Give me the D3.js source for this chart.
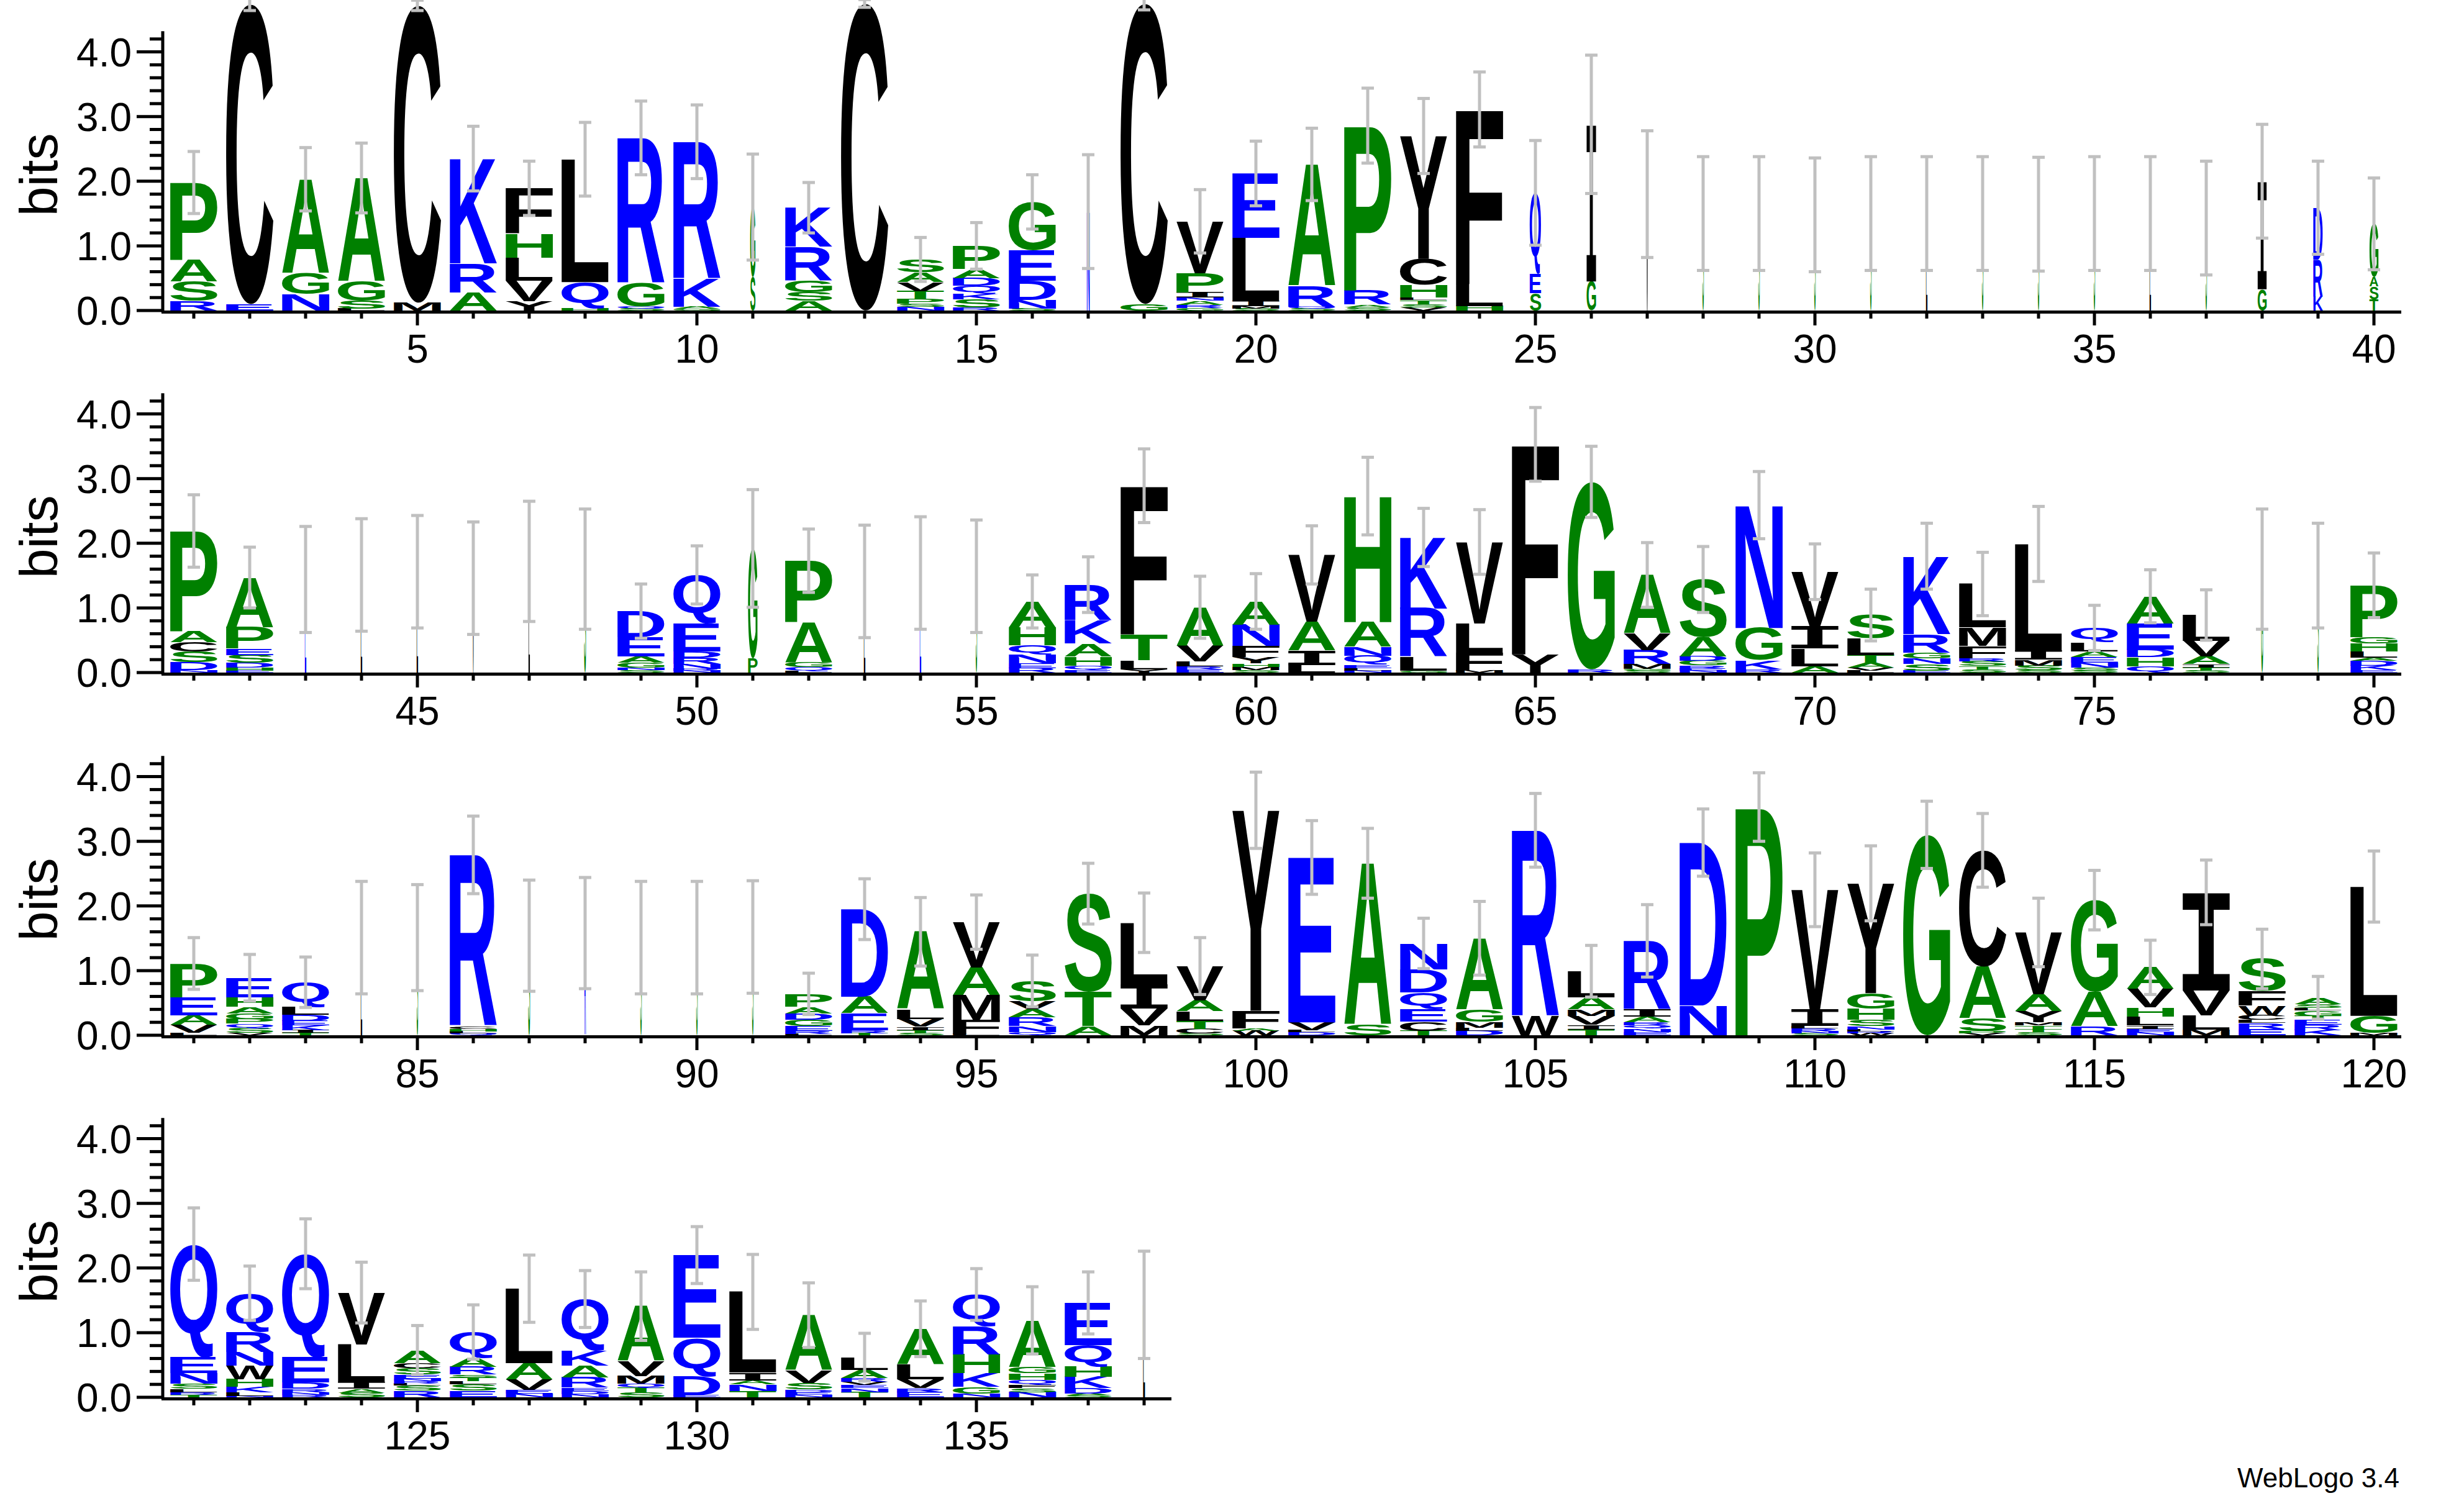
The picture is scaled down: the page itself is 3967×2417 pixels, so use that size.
<!DOCTYPE html>
<html><head><meta charset="utf-8">
<script src="https://cdn.jsdelivr.net/npm/d3@7"></script>
<style>body{margin:0;background:#fff}</style></head>
<body><svg id="c" width="3967" height="2417"></svg>
<script>
// stacks: letters bottom→top with heights in bits
const stacks1 = [
"R.15 S.3 A.33 P1.2","E.1 C4.64","N.25 G.33 A1.45","L.03 S.12 G.3 A1.6","M.12 C4.6",
"A.28 R.45 K1.62","Y.14 V.32 L.36 H.37 F.7","H.04 Q.4 L1.9","S.03 Q.03 G.36 R2.25","G.03 A.03 K.43 R2.12",
"S.52 G1.08","A.15 S.14 G.18 R.52 K.6","C4.75","N.06 S.05 P.07 T.12 V.14 A.15 S.2","R.05 S.12 K.09 Q.12 D.12 A.14 P.36",
"S.03 N.13 D.3 E.47 G.75","N1.53","G.1 C4.65","G.04 R.05 A.06 N.05 I.08 P.3 V.8","S.03 M.04 I.08 L.97 E1.0",
"S.03 Q.03 R.32 A1.88","S.05 A.04 R.22 P2.55","V.05 S.05 T.06 L.04 H.2 C.4 Y1.9","H.07 L.34 F2.7","S.27 E.3 Q1.25",
"G.45 I2.43","V1.8","S1.5","S1.5","S1.48","S1.5","L1.5","S1.5","S1.49","S1.5","L1.5","S1.43",
"G.33 I1.67","K.22 R.57 D.8","T.17 S.2 A.15 G.82"];
const stacks2 = [
"N.04 D.12 S.16 C.15 A.17 P1.55","E.03 H.05 D.07 S.12 E.1 P.33 A.77","E1.44","L1.51","L1.56","V1.46","L1.72","S1.6",
"S.04 N.04 G.07 A.1 E.3 D.4","N.03 R.03 N.07 R.1 D.1 E.43 Q.75","P.22 G1.7","L.02 Q.07 G.07 A.62 P.95","L1.41","E1.54","S1.49",
"R.07 E.07 N.14 Q.14 H.28 A.4","E.04 Q.07 H.14 A.2 K.36 R.55","Y.05 L.14 T.4 F2.3","E.05 R.05 L.07 V.24 A.6","S.04 M.05 H.05 Y.1 F.17 N.33 A.36",
"L.12 I.22 A.45 V1.03","N.03 L.04 E.05 Q.14 N.14 A.38 H1.95","G.03 L.21 R.75 K1.1","M.03 F.28 L.45 V1.26","Y.28 F3.25",
"R.05 G2.9","S.03 G.03 M.07 R.22 V.26 A.9","N.03 E.03 R.05 G.07 D.07 A.29 S.9","R.05 K.14 G.5 N1.9","A.1 L.27 I.34 V.85",
"L.03 V.05 A.07 T.12 L.26 S.36","E.03 S.1 N.09 G.09 R.29 K1.2","S.05 T.05 S.07 R.05 F.19 M.29 L.67","S.04 S.07 M.09 I.14 L1.65","S.03 S.05 N.07 E.09 A.09 L.14 Q.22",
"Q.1 H.14 D.12 E.4 A.42","S.03 T.05 I.05 A.12 V.24 L.4","G1.6","S1.5","E.04 K.07 D.07 A.05 L.1 H.12 G.1 P.8"];
const stacks3 = [
"L.04 V.12 A.15 E.28 P.52","V.04 S.07 Q.07 P.07 G.09 A.1 H.15 E.3","T.04 I.04 K.07 E.07 D.1 L.12 Q.38","L1.51","S1.51",
"Q.03 L.03 H.04 C.04 R2.65","S1.54","R1.58","S1.51","S1.51","S1.52",
"L.02 R.05 E.07 G.1 D.1 A.1 P.2","T.03 R.05 E.26 A.26 D1.35","S.03 T.05 I.05 V.12 L.15 A1.2","L.02 F.22 M.38 A.43 V.7",
"Q.05 N.09 R.14 A.12 V.12 S.32","A.14 T.53 S1.52","M.15 V.26 I.38 L.95","S.03 C.07 T.12 L.15 A.17 V.53","W.07 A.04 F.27 Y3.1",
"D.05 L.03 V.12 E2.55","S.16 A2.5","T.07 C.14 E.19 Q.26 D.36 N.4","D.07 L.05 M.09 G.19 A1.1","W.29 R2.88",
"T.09 I.07 V.14 M.1 A.19 L.4","E.05 N.05 Q.05 R.05 A.09 I.12 R1.05","N.46 D2.52","P3.53","S.03 N.03 R.05 L.03 I.26 V1.85",
"W.03 R.03 L.03 N.05 S.1 H.17 G.24 Y1.7","G3.1","V.03 P.03 S.2 A.8 C1.8","S.05 T.05 T.05 M.05 Y.17 A.26 V.96","R.14 A.53 G1.42",
"N.05 E.05 I.05 L.14 H.14 V.29 A.33","M.09 L.22 V.38 I1.52","E.1 R.09 L.05 C.07 W.15 F.22 S.5","K.08 R.08 E.07 T.07 G.08 L.04 S.06 A.1","M.03 G.27 L2.0"];
const stacks4 = [
"T.04 R.04 L.05 S.08 N.16 E.25 Q1.75","N.02 L.06 K.08 H.12 W.21 N.21 R.31 Q.6","R.04 N.04 R.05 D.1 E.39 Q1.6","S.07 A.06 I.1 L.59 V.8","R.1 S.08 L.03 R.04 N.04 E.06 S.1 C.08 A.2",
"E.1 S.1 L.05 T.06 S.04 R.12 A.14 Q.4","N.06 E.06 V.16 A.25 L1.15","N.05 D.05 E.05 R.16 A.18 K.23 Q.8","S.08 T.07 Q.06 M.12 V.23 A.85","E.03 D.29 Q.6 E1.28",
"T.1 N.1 A.06 I.12 L1.25","N.04 E.04 D.04 S.1 V.2 A.85","T.08 N.06 E.05 V.05 R.06 A.12 L.2","E.08 R.06 V.14 L.23 A.55","N.06 G.1 K.21 H.29 R.43 Q.5",
"N.08 S.06 F.05 Q.08 H.1 G.1 A.72","S.03 A.03 D.08 K.18 H.16 Q.33 E.65","L1.43"];
const widths = {11:.11,17:.06,25:.24,26:.2,27:.04,28:.03,29:.03,30:.03,31:.03,32:.03,33:.03,34:.03,35:.03,36:.03,37:.03,
  38:.19,39:.2,40:.19,43:.03,44:.03,45:.03,46:.03,47:.03,48:.04,51:.2,53:.03,54:.03,55:.03,78:.04,79:.03,
  84:.03,85:.03,87:.04,88:.03,89:.03,90:.03,91:.03,138:.04};
const errs1 = [.48,.1,.49,.54,.08,.5,.42,.57,.57,.57,.82,.39,.06,.34,.36,.42,.88,.1,.49,.5,.56,.58,.58,.58,.81,1.07,.98,.88,.88,.88,.88,.88,.88,.88,.88,.88,.88,.88,.72,.71];
const errs2 = [.56,.47,.82,.87,.87,.87,.93,.93,.42,.45,.91,.49,.87,.87,.87,.41,.43,.57,.48,.43,.45,.6,.45,.5,.57,.55,.5,.51,.52,.43,.4,.51,.49,.58,.35,.41,.39,.93,.81,.5];
const errs3 = [.4,.36,.39,.87,.82,.6,.86,.86,.87,.87,.87,.32,.47,.53,.42,.4,.47,.46,.44,.59,.57,.54,.39,.57,.57,.4,.56,.52,.53,.57,.58,.52,.57,.53,.46,.42,.5,.46,.33,.55];
const errs4 = [.56,.42,.54,.47,.38,.42,.52,.44,.53,.44,.58,.5,.37,.43,.4,.52,.48,.83];
const yTicks = [0,1,2,3,4];
const rowStarts = [1,41,81,121];

const allStacks = [...stacks1,...stacks2,...stacks3,...stacks4];
const allErrs = [...errs1,...errs2,...errs3,...errs4];
const colorOf = l => "RKDENQ".includes(l) ? "#0000ff" : ("SGHTAP".includes(l) ? "#008000" : "#000000");

const svg = d3.select("#c");
const FONT = "'Liberation Sans', Arial, Helvetica, sans-serif";
const MONO = "'Liberation Mono', 'DejaVu Sans Mono', monospace";
const fontFor = l => l === "I" ? MONO : FONT;
const cv = document.createElement("canvas").getContext("2d");
const metrics = {};
function met(l){ if(!metrics[l]){ cv.font = "bold 200px " + fontFor(l); const m=cv.measureText(l); metrics[l]={l:m.actualBoundingBoxLeft,r:m.actualBoundingBoxRight,a:m.actualBoundingBoxAscent,d:m.actualBoundingBoxDescent}; } return metrics[l]; }

const zeros = [500,1083,1667,2250];
const bitPx = 104.1;
rowStarts.forEach((start, ri) => {
  const n = Math.min(40, allStacks.length - (start-1));
  const x = d3.scaleLinear().domain([start-1, start]).range([312-90, 312]);
  const y = d3.scaleLinear().domain([0,4]).range([zeros[ri], zeros[ri]-4*bitPx]);
  const g = svg.append("g");
  for (let i=0;i<n;i++){
    const p = start+i;
    const items = allStacks[p-1].split(" ").map(s=>({l:s[0],h:+s.slice(1)}));
    const w = 76*(widths[p]||1);
    let cum = 0;
    items.forEach(it=>{
      const m = met(it.l);
      const y0 = y(cum+it.h), y1 = y(cum);
      const H = y1-y0, sx = w/(m.l+m.r), sy = H/(m.a+m.d);
      g.append("text").text(it.l).attr("font-family",fontFor(it.l)).attr("font-weight","bold").attr("font-size",200)
        .attr("fill",colorOf(it.l))
        .attr("transform",`translate(${x(p)-w/2},${y0}) scale(${sx},${sy}) translate(${m.l},${m.a})`);
      cum += it.h;
    });
    const e = allErrs[p-1];
    const eg = g.append("g").attr("stroke","#c0c0c0").attr("stroke-width",5);
    eg.append("line").attr("x1",x(p)).attr("x2",x(p)).attr("y1",y(cum-e)).attr("y2",y(cum+e));
    [cum-e,cum+e].forEach(v=>eg.append("line").attr("x1",x(p)-10).attr("x2",x(p)+10).attr("y1",y(v)).attr("y2",y(v)));
  }
  const ya = g.append("g").attr("transform","translate(262,0)");
  ya.append("line").attr("x1",0).attr("x2",0).attr("y1",y(0)+3).attr("y2",y(4.32)).attr("stroke","#000").attr("stroke-width",5);
  d3.range(0,4.3,0.2).forEach(v=>{
    const major = Math.abs(v-Math.round(v))<1e-6;
    ya.append("line").attr("x1",major?-42:-21).attr("x2",0).attr("y1",y(v)).attr("y2",y(v)).attr("stroke","#000").attr("stroke-width",5);
  });
  yTicks.forEach(v=>ya.append("text").text(v.toFixed(1)).attr("x",-50).attr("y",y(v)).attr("dy","0.36em")
    .attr("text-anchor","end").attr("font-family",FONT).attr("font-size",64));
  g.append("text").text("bits").attr("font-family",FONT).attr("font-size",86)
    .attr("transform",`translate(92,${y(2.1)}) rotate(-90)`).attr("text-anchor","middle");
  const xa = g.append("g");
  xa.append("line").attr("x1",260).attr("x2",x(start+n-1)+44).attr("y1",y(0)+2.5).attr("y2",y(0)+2.5).attr("stroke","#000").attr("stroke-width",5);
  for (let i=0;i<n;i++){
    const p=start+i, major = p%5===0;
    xa.append("line").attr("x1",x(p)).attr("x2",x(p)).attr("y1",y(0)).attr("y2",y(0)+(major?24:13)).attr("stroke","#000").attr("stroke-width",5);
    if(major) xa.append("text").text(p).attr("x",x(p)).attr("y",y(0)+84).attr("text-anchor","middle")
      .attr("font-family",FONT).attr("font-size",64);
  }
});
svg.append("text").text("WebLogo 3.4").attr("x",3863).attr("y",2395).attr("text-anchor","end")
  .attr("font-family",FONT).attr("font-size",44);
</script></body></html>
